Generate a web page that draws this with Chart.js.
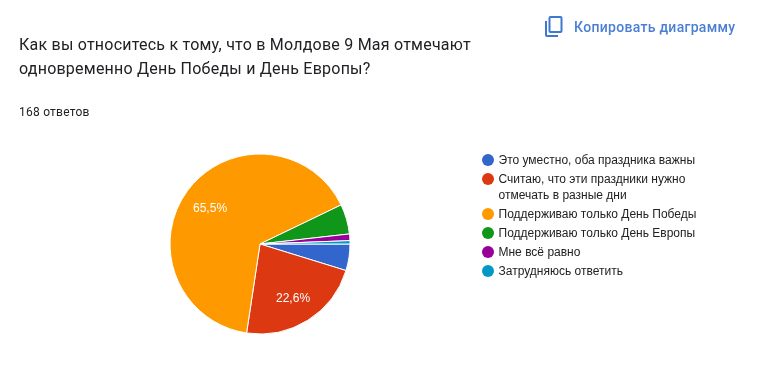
<!DOCTYPE html>
<html>
<head>
<meta charset="utf-8">
<script src="https://cdn.jsdelivr.net/npm/chart.js@4"></script>
<style>
  html, body { margin: 0; padding: 0; background: #fff; }
  body { width: 759px; height: 368px; position: relative; overflow: hidden; font-family: Roboto, sans-serif; }
  canvas { position: absolute; left: 0; top: 0; }
  .txt { position: absolute; white-space: nowrap; }
  #q { left: 19px; top: 33px; font-size: 16px; line-height: 24px; color: #202124; letter-spacing: 0.23px; }
  #n { left: 19px; top: 104px; font-size: 12px; line-height: 16px; color: #202124; letter-spacing: 0.23px; }
  #copy { left: 574px; top: 17px; font-size: 14px; line-height: 20px; color: #4a7fd4; letter-spacing: 0.3px; font-weight: 500; }
  svg { position: absolute; left: 544px; top: 15px; }
  #legend { position: absolute; left: 482px; top: 152px; margin: 0; padding: 0; list-style: none;
    font: 12px/16px "Liberation Sans", Arial, sans-serif; color: #222; }
  #legend li { position: relative; padding-left: 16.5px; margin-bottom: 3px; white-space: nowrap; }
  #legend i { position: absolute; left: 0; top: 2px; width: 12px; height: 12px; border-radius: 50%; }
</style>
</head>
<body>
<canvas id="pie" width="759" height="368"></canvas>
<div class="txt" id="q">Как вы относитесь к тому, что в Молдове 9 Мая отмечают<br>одновременно День Победы и День Европы?</div>
<div class="txt" id="n">168 ответов</div>
<svg width="20" height="24" viewBox="0 0 20 24" fill="none" stroke="#3f78d0" stroke-width="2"><rect x="5.5" y="2" width="12" height="15" rx="1"/><path d="M2 6v14a1 1 0 0 0 1 1h11"/></svg>
<div class="txt" id="copy">Копировать диаграмму</div>
<ul id="legend"></ul>
<script>
const labels = [
  "Это уместно, оба праздника важны",
  ["Считаю, что эти праздники нужно", "отмечать в разные дни"],
  "Поддерживаю только День Победы",
  "Поддерживаю только День Европы",
  "Мне всё равно",
  "Затрудняюсь ответить"
];
const answers = [8, 38, 110, 9, 2, 1];
const shownLabels = ["", "22,6%", "65,5%", "", "", ""];
const colors = ["#3366cc", "#dc3912", "#ff9900", "#109618", "#990099", "#0099c6"];

const sliceLabels = {
  id: "sliceLabels",
  afterDatasetsDraw(chart) {
    const ctx = chart.ctx;
    const arcs = chart.getDatasetMeta(0).data;
    ctx.save();
    ctx.font = "12px 'Liberation Sans', Arial, sans-serif";
    ctx.fillStyle = "#fff";
    ctx.textAlign = "center";
    ctx.textBaseline = "middle";
    arcs.forEach((arc, i) => {
      if (!shownLabels[i]) return;
      const mid = (arc.startAngle + arc.endAngle) / 2;
      const r = arc.outerRadius * 0.69;
      ctx.fillText(shownLabels[i], arc.x + Math.cos(mid) * r, arc.y + Math.sin(mid) * r + 2);
    });
    ctx.restore();
  }
};

const chart = new Chart(document.getElementById("pie").getContext("2d"), {
  type: "pie",
  data: {
    labels: labels,
    datasets: [{ data: answers, backgroundColor: colors, borderColor: "#fff", borderWidth: 1 }]
  },
  plugins: [sliceLabels],
  options: {
    responsive: false,
    animation: false,
    rotation: 90,
    radius: 90,
    layout: { padding: { left: 0, right: 239, top: 154, bottom: 34 } },
    plugins: {
      tooltip: { enabled: false },
      legend: { display: false }
    }
  }
});

// legend is html because the two-line item needs its own row height
const legendEl = document.getElementById("legend");
chart.data.labels.forEach((label, i) => {
  const li = document.createElement("li");
  const dot = document.createElement("i");
  dot.style.background = chart.data.datasets[0].backgroundColor[i];
  li.appendChild(dot);
  [].concat(label).forEach((line, j) => {
    if (j > 0) li.appendChild(document.createElement("br"));
    li.appendChild(document.createTextNode(line));
  });
  legendEl.appendChild(li);
});
</script>
</body>
</html>
